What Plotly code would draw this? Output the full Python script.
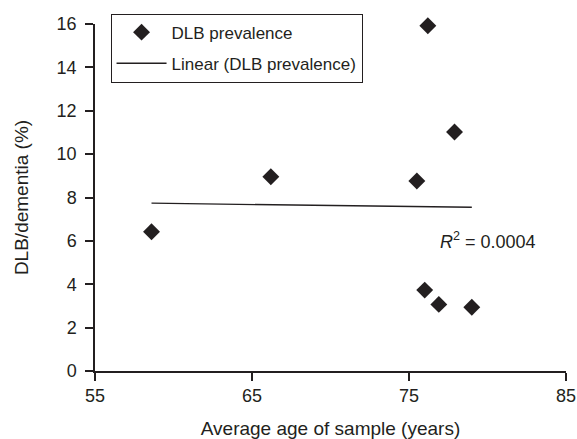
import numpy as np
import plotly.graph_objects as go

# Data
age = [58.6, 66.2, 76.2, 77.9, 75.5, 76.0, 76.9, 79.0]
dlb_prevalence = [6.42, 8.96, 15.92, 11.02, 8.76, 3.73, 3.07, 2.94]
x_ticks = [55, 65, 75, 85]
y_ticks = [0, 2, 4, 6, 8, 10, 12, 14, 16]
r2_label = "<i>R</i><sup>2</sup> = 0.0004"

ink = "#231f20"
font_family = "Liberation Sans, Arial, Helvetica, sans-serif"

slope, intercept = np.polyfit(age, dlb_prevalence, 1)
trend_x = [min(age), max(age)]
trend_y = [slope * v + intercept for v in trend_x]

fig = go.Figure()
fig.add_trace(go.Scatter(
    x=age, y=dlb_prevalence, mode="markers", name="DLB prevalence",
    marker=dict(symbol="diamond", size=13, color=ink),
    legendgroup="a", cliponaxis=False,
))
fig.add_trace(go.Scatter(
    x=trend_x, y=trend_y, mode="lines", name="Linear (DLB prevalence)",
    line=dict(color=ink, width=1.3), legendgroup="b",
))

fig.add_annotation(x=80.0, y=6.04, text=r2_label, showarrow=False,
                   font=dict(size=18, color=ink, family=font_family))

fig.update_layout(
    width=577, height=439,
    margin=dict(l=95, r=11, t=24, b=68, autoexpand=False),
    paper_bgcolor="white", plot_bgcolor="white",
    font=dict(family=font_family, color=ink, size=18),
    showlegend=True,
    legend=dict(x=0.033, y=1.030, xanchor="left", yanchor="top",
                bordercolor=ink, borderwidth=1, bgcolor="white",
                font=dict(size=17, color=ink), itemwidth=50,
                traceorder="grouped", tracegroupgap=6),
    xaxis=dict(range=[55, 85], tickvals=x_ticks, showgrid=False, zeroline=False,
               showline=True, linecolor=ink, linewidth=1.5, automargin=False,
               ticks="outside", ticklen=8, tickwidth=1.5, tickcolor=ink,
               ticklabelstandoff=0,
               tickfont=dict(size=18, color=ink),
               title=dict(text="Average age of sample (years)", standoff=16,
                          font=dict(size=19, color=ink))),
    yaxis=dict(range=[0, 16], tickvals=y_ticks, showgrid=False, zeroline=False,
               showline=True, linecolor=ink, linewidth=1.5, automargin=False,
               ticks="outside", ticklen=8, tickwidth=1.5, tickcolor=ink,
               ticklabelstandoff=5,
               tickfont=dict(size=18, color=ink),
               title=dict(text="DLB/dementia (%)", standoff=23,
                          font=dict(size=19, color=ink))),
)

fig.write_html("out.html", config={"displayModeBar": False},
               post_script="document.body.style.margin = '0';")
